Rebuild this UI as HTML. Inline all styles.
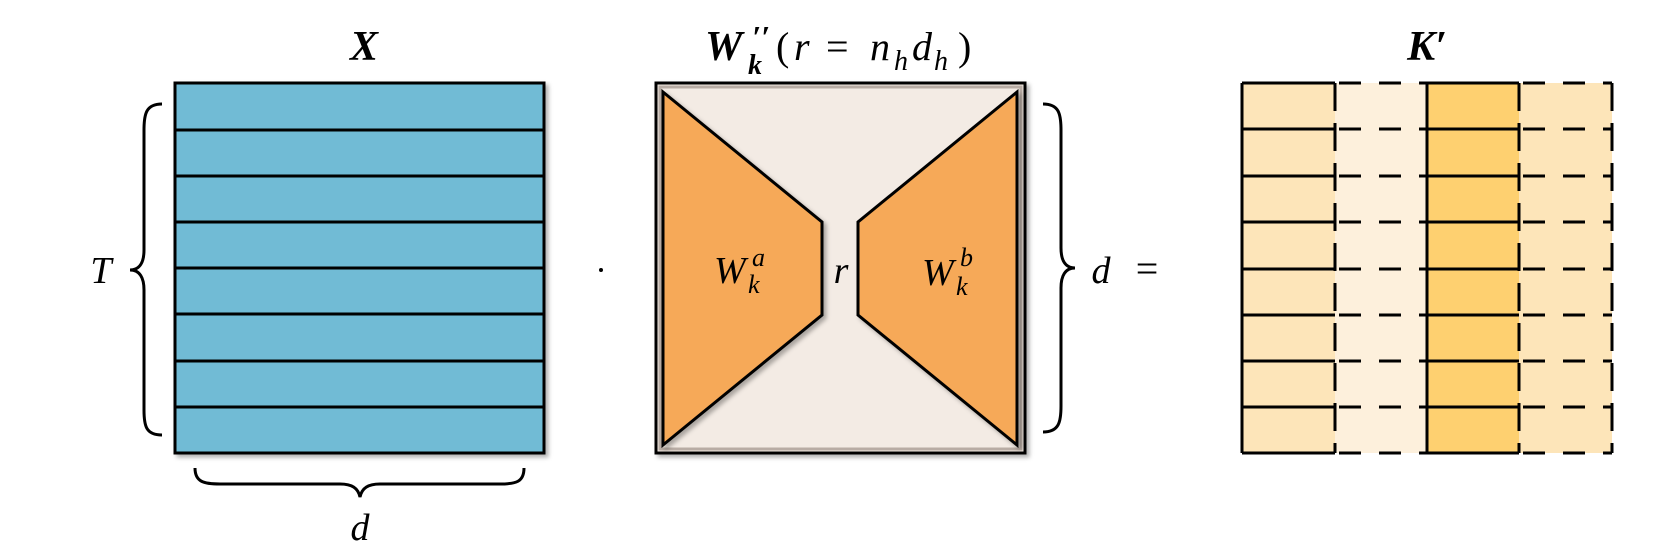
<!DOCTYPE html>
<html><head><meta charset="utf-8"><style>
html,body{margin:0;padding:0;background:#fff;}
svg{display:block;}
text{font-family:"Liberation Serif",serif;font-style:italic;fill:#000;}
</style></head><body>
<svg width="1661" height="554" viewBox="0 0 1661 554" xmlns="http://www.w3.org/2000/svg">
<defs>
<filter id="sh" x="-5%" y="-5%" width="115%" height="115%"><feDropShadow dx="3" dy="3" stdDeviation="2" flood-color="#000" flood-opacity="0.3"/></filter>
</defs>
<!-- Titles -->
<text x="364" y="60" font-size="42" font-weight="bold" text-anchor="middle">X</text>
<text x="705" y="60" font-size="42" font-weight="bold">W</text>
<text x="752" y="48" font-size="32" font-weight="bold">′′</text>
<text x="748" y="74" font-size="28" font-weight="bold">k</text>
<text x="776" y="60" font-size="40" style="font-style:normal">(</text>
<text x="794" y="60" font-size="40">r</text>
<text x="826" y="60" font-size="40" style="font-style:normal">=</text>
<text x="870" y="60" font-size="40">n</text>
<text x="894" y="70" font-size="28">h</text>
<text x="912" y="60" font-size="40">d</text>
<text x="934" y="70" font-size="28">h</text>
<text x="958" y="60" font-size="40" style="font-style:normal">)</text>
<text x="1427" y="60" font-size="42" font-weight="bold" text-anchor="middle">K′</text>

<!-- X matrix -->
<g filter="url(#sh)">
<rect x="175" y="83" width="369" height="370" fill="#71bbd5" stroke="#000" stroke-width="3"/>
</g>
<g stroke="#000" stroke-width="3">
<line x1="175" y1="130" x2="544" y2="130"/>
<line x1="175" y1="176" x2="544" y2="176"/>
<line x1="175" y1="222" x2="544" y2="222"/>
<line x1="175" y1="268" x2="544" y2="268"/>
<line x1="175" y1="314" x2="544" y2="314"/>
<line x1="175" y1="361" x2="544" y2="361"/>
<line x1="175" y1="407" x2="544" y2="407"/>
</g>
<!-- Left brace -->
<path d="M162 104 C146 104 144 114 144 130 L144 250 C144 262 140 270 130 270 C140 270 144 278 144 290 L144 410 C144 426 146 435 162 435" fill="none" stroke="#000" stroke-width="3"/>
<text x="101" y="283" font-size="38" text-anchor="middle">T</text>
<!-- Bottom brace -->
<path d="M195 468 C195 482 204 484 220 484 L340 484 C352 484 358 488 360 497 C362 488 368 484 380 484 L500 484 C516 484 524 482 524 468" fill="none" stroke="#000" stroke-width="3"/>
<text x="360" y="540" font-size="38" text-anchor="middle">d</text>

<!-- dot -->
<circle cx="601" cy="270" r="2" fill="#000"/>

<!-- W box -->
<g filter="url(#sh)">
<rect x="656" y="83" width="369" height="370" fill="#f3ebe4" stroke="#000" stroke-width="3"/>
</g>
<rect x="660" y="87" width="361" height="362" fill="none" stroke="#b8aca4" stroke-width="3"/>
<g filter="url(#sh)">
<polygon points="663,92 822,222 822,315 663,445" fill="#f6a958" stroke="#000" stroke-width="3"/>
<polygon points="1017,92 858,222 858,315 1017,445" fill="#f6a958" stroke="#000" stroke-width="3"/>
</g>
<text x="714" y="283" font-size="38">W</text>
<text x="752" y="266" font-size="26">a</text>
<text x="748" y="293" font-size="26">k</text>
<text x="841" y="283" font-size="38" text-anchor="middle">r</text>
<text x="922" y="285" font-size="38">W</text>
<text x="960" y="266" font-size="26">b</text>
<text x="956" y="295" font-size="26">k</text>

<!-- Right brace -->
<path d="M1043 104 C1059 104 1061 114 1061 130 L1061 248 C1061 260 1065 268 1075 268 C1065 268 1061 276 1061 288 L1061 406 C1061 422 1059 432 1043 432" fill="none" stroke="#000" stroke-width="3"/>
<text x="1101" y="283" font-size="38" text-anchor="middle">d</text>
<text x="1147" y="282" font-size="40" text-anchor="middle" style="font-style:normal">=</text>

<!-- K' grid -->
<rect x="1242" y="83" width="93" height="370" fill="#fde5b9"/>
<rect x="1335" y="83" width="92" height="370" fill="#fdf0dc"/>
<rect x="1427" y="83" width="92" height="370" fill="#fed070"/>
<rect x="1519" y="83" width="93" height="370" fill="#fde5b9"/>
<g stroke="#000" stroke-width="3">
<line x1="1242" y1="83" x2="1335" y2="83"/><line x1="1427" y1="83" x2="1519" y2="83"/>
<line x1="1242" y1="453" x2="1335" y2="453"/><line x1="1427" y1="453" x2="1519" y2="453"/>
<line x1="1242" y1="83" x2="1242" y2="453"/>
<line x1="1427" y1="83" x2="1427" y2="453"/>
</g>
<g stroke="#000" stroke-width="3" stroke-dasharray="28,12">
<line x1="1335" y1="83" x2="1335" y2="453"/>
<line x1="1519" y1="83" x2="1519" y2="453"/>
<line x1="1612" y1="83" x2="1612" y2="453"/>
</g>
<g stroke="#000" stroke-width="3">
<line x1="1242" y1="129" x2="1335" y2="129"/><line x1="1427" y1="129" x2="1519" y2="129"/>
<line x1="1242" y1="176" x2="1335" y2="176"/><line x1="1427" y1="176" x2="1519" y2="176"/>
<line x1="1242" y1="222" x2="1335" y2="222"/><line x1="1427" y1="222" x2="1519" y2="222"/>
<line x1="1242" y1="269" x2="1335" y2="269"/><line x1="1427" y1="269" x2="1519" y2="269"/>
<line x1="1242" y1="315" x2="1335" y2="315"/><line x1="1427" y1="315" x2="1519" y2="315"/>
<line x1="1242" y1="361" x2="1335" y2="361"/><line x1="1427" y1="361" x2="1519" y2="361"/>
<line x1="1242" y1="407" x2="1335" y2="407"/><line x1="1427" y1="407" x2="1519" y2="407"/>
</g>
<g stroke="#000" stroke-width="3" stroke-dasharray="22,18" stroke-dashoffset="-4">
<line x1="1335" y1="83" x2="1427" y2="83"/><line x1="1519" y1="83" x2="1612" y2="83"/>
<line x1="1335" y1="129" x2="1427" y2="129"/><line x1="1519" y1="129" x2="1612" y2="129"/>
<line x1="1335" y1="176" x2="1427" y2="176"/><line x1="1519" y1="176" x2="1612" y2="176"/>
<line x1="1335" y1="222" x2="1427" y2="222"/><line x1="1519" y1="222" x2="1612" y2="222"/>
<line x1="1335" y1="269" x2="1427" y2="269"/><line x1="1519" y1="269" x2="1612" y2="269"/>
<line x1="1335" y1="315" x2="1427" y2="315"/><line x1="1519" y1="315" x2="1612" y2="315"/>
<line x1="1335" y1="361" x2="1427" y2="361"/><line x1="1519" y1="361" x2="1612" y2="361"/>
<line x1="1335" y1="407" x2="1427" y2="407"/><line x1="1519" y1="407" x2="1612" y2="407"/>
<line x1="1335" y1="453" x2="1427" y2="453"/><line x1="1519" y1="453" x2="1612" y2="453"/>
</g>
</svg>
</body></html>
